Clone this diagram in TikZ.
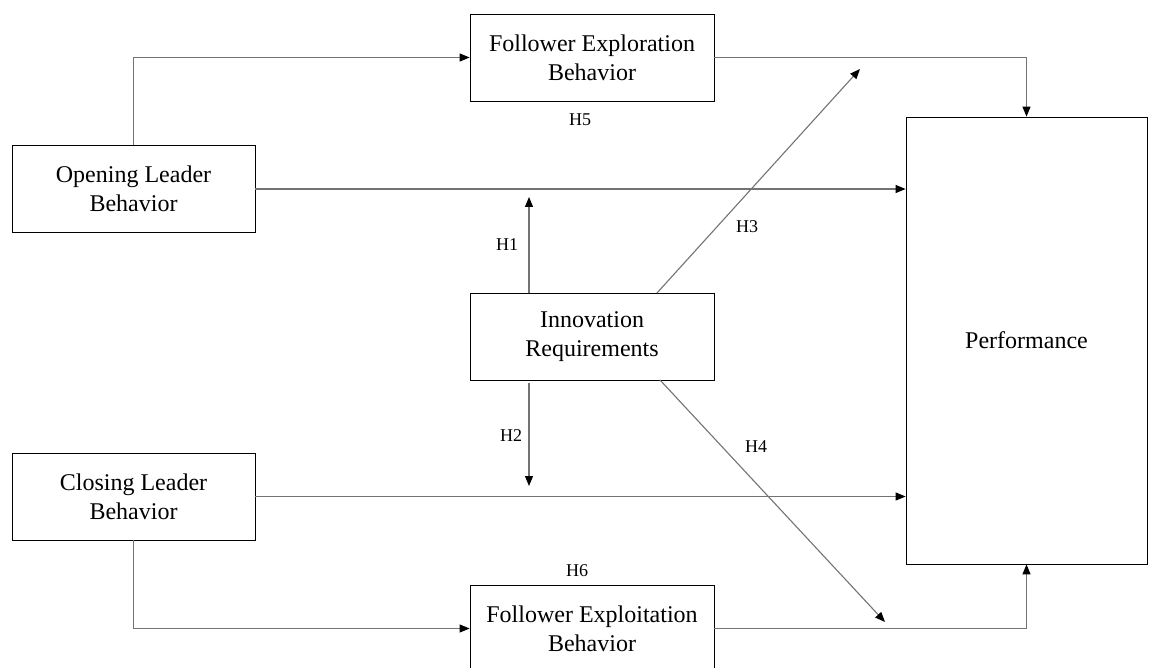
\documentclass[tikz,border=0pt]{standalone}
\usepackage{fontspec}
\setmainfont{Liberation Serif}
\usepackage{tikz}
\usetikzlibrary{arrows.meta}

\begin{document}
\begin{tikzpicture}[x=1pt,y=-1pt,
        box/.style={draw=black,line width=0.8pt,rectangle,align=center,
            minimum width=244pt,minimum height=87pt,inner sep=0pt,
            font=\fontsize{24}{29}\selectfont},
        conn/.style={draw=black!55,line width=1.1pt,
            -{Triangle[length=10pt,width=8pt,color=black]}},
        hyp/.style={font=\fontsize{18}{20}\selectfont,inner sep=0pt}]
            \useasboundingbox (0,0) rectangle (1149,668);

            \node[box] (fexp) at (592,57.5) {Follower Exploration\\Behavior};
            \node[box,minimum width=243pt] (open) at (133.5,189) {Opening Leader\\Behavior};
            \node[box] (innov) at (592,336.5) {Innovation\\Requirements};
            \node[box,minimum width=243pt] (close) at (133.5,496.5) {Closing Leader\\Behavior};
            \node[box] (fexl) at (592,628.5) {Follower Exploitation\\Behavior};
            \node[box,minimum width=241pt,minimum height=447pt] (perf) at (1026.5,340.5) {Performance};

            \coordinate (h1s) at (529,293);
            \coordinate (h1e) at (529,197);
            \coordinate (h2s) at (529,383);
            \coordinate (h2e) at (529,486);
            \coordinate (h3s) at (657,293);
            \coordinate (h3e) at (860,69);
            \coordinate (h4s) at (660,380);
            \coordinate (h4e) at (885,622);

            \draw[conn] (open.north) |- (fexp.west);
            \draw[conn] (fexp.east) -| (perf.north);
            \draw[conn] (open.east) -- (open.east -| perf.west);
            \draw[conn] (close.east) -- (close.east -| perf.west);
            \draw[conn] (close.south) |- (fexl.west);
            \draw[conn] (fexl.east) -| (perf.south);

            \draw[conn] (h1s) -- (h1e);
            \draw[conn] (h2s) -- (h2e);
            \draw[conn] (h3s) -- (h3e);
            \draw[conn] (h4s) -- (h4e);

            \node[hyp] (lh1) at (507,245) {H1};
            \node[hyp] (lh2) at (511,436) {H2};
            \node[hyp] (lh3) at (747,227) {H3};
            \node[hyp] (lh4) at (756,447) {H4};
            \node[hyp] (lh5) at (580,120) {H5};
            \node[hyp] (lh6) at (577,571) {H6};
        \end{tikzpicture}
\end{document}
